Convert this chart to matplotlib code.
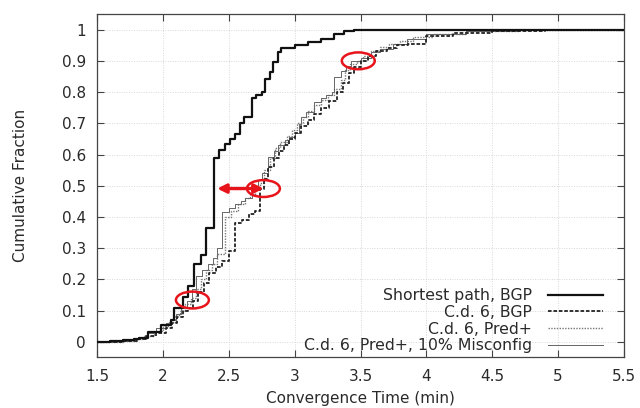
import matplotlib
matplotlib.use("Agg")
import matplotlib.pyplot as plt
from matplotlib.patches import Ellipse

plt.rcParams['font.family'] = ['DejaVu Sans']

# ---- data ----
sp_x = [1.5, 1.6, 1.7, 1.78, 1.82, 1.886, 1.986, 2.06, 2.086, 2.149, 2.187, 2.237, 2.287, 2.325,
        2.387, 2.425, 2.475, 2.51, 2.55, 2.588, 2.613, 2.675, 2.71, 2.75, 2.776, 2.813, 2.838,
        2.876, 2.90, 3.0, 3.10, 3.20, 3.30, 3.377, 3.45]
sp_y = [0.0, 0.002, 0.005, 0.008, 0.013, 0.033, 0.054, 0.07, 0.11, 0.145, 0.18, 0.25, 0.278, 0.364,
        0.59, 0.613, 0.635, 0.65, 0.667, 0.70, 0.72, 0.78, 0.79, 0.80, 0.843, 0.863, 0.895,
        0.927, 0.94, 0.95, 0.96, 0.97, 0.986, 0.995, 1.0]

bgp_x = [1.5, 1.7, 1.8, 1.87, 1.95, 2.02, 2.07, 2.11, 2.15, 2.19, 2.23, 2.27, 2.31, 2.35, 2.40,
         2.45, 2.50, 2.55, 2.60, 2.65, 2.70, 2.74, 2.77, 2.80, 2.84, 2.88, 2.92, 2.96, 3.0, 3.05,
         3.10, 3.15, 3.20, 3.26, 3.32, 3.37, 3.41, 3.45, 3.50, 3.56, 3.62, 3.70, 3.78, 3.86, 4.0,
         4.2, 4.5, 4.9]
bgp_y = [0.0, 0.003, 0.008, 0.018, 0.03, 0.045, 0.06, 0.08, 0.10, 0.11, 0.13, 0.16, 0.19, 0.22, 0.24,
         0.26, 0.29, 0.38, 0.39, 0.41, 0.42, 0.49, 0.52, 0.56, 0.59, 0.61, 0.63, 0.65, 0.67, 0.69,
         0.71, 0.73, 0.75, 0.77, 0.80, 0.83, 0.86, 0.88, 0.90, 0.915, 0.93, 0.94, 0.95, 0.955, 0.98,
         0.99, 0.997, 1.0]

pred_x = [1.5, 1.7, 1.8, 1.86, 1.93, 2.0, 2.05, 2.09, 2.13, 2.17, 2.21, 2.25, 2.29, 2.33, 2.37,
          2.41, 2.47, 2.52, 2.57, 2.62, 2.66, 2.70, 2.74, 2.77, 2.81, 2.85, 2.89, 2.94, 2.98, 3.02,
          3.06, 3.10, 3.15, 3.20, 3.25, 3.30, 3.35, 3.38, 3.42, 3.47, 3.52, 3.58, 3.65, 3.72, 3.80,
          3.90, 4.05, 4.3, 4.7]
pred_y = [0.0, 0.004, 0.01, 0.02, 0.035, 0.05, 0.065, 0.085, 0.10, 0.12, 0.14, 0.17, 0.20, 0.23, 0.25,
          0.28, 0.40, 0.42, 0.44, 0.46, 0.475, 0.49, 0.51, 0.55, 0.59, 0.62, 0.64, 0.66, 0.68, 0.70,
          0.72, 0.74, 0.76, 0.775, 0.79, 0.81, 0.84, 0.87, 0.89, 0.90, 0.915, 0.93, 0.945, 0.955, 0.965,
          0.975, 0.985, 0.995, 1.0]

mis_x = [1.5, 1.65, 1.75, 1.82, 1.88, 1.95, 2.02, 2.06, 2.10, 2.14, 2.18, 2.22, 2.25, 2.30, 2.34,
         2.38, 2.41, 2.445, 2.50, 2.55, 2.59, 2.62, 2.675, 2.725, 2.75, 2.80, 2.84, 2.876, 2.925,
         2.96, 3.0, 3.03, 3.05, 3.09, 3.15, 3.20, 3.24, 3.28, 3.30, 3.35, 3.39, 3.43, 3.50, 3.58,
         3.65, 3.75, 3.85, 4.0, 4.3, 4.7]
mis_y = [0.0, 0.003, 0.008, 0.015, 0.03, 0.045, 0.06, 0.07, 0.09, 0.11, 0.13, 0.17, 0.21, 0.23, 0.25,
         0.27, 0.30, 0.415, 0.43, 0.44, 0.45, 0.46, 0.486, 0.518, 0.54, 0.592, 0.61, 0.63, 0.645,
         0.656, 0.67, 0.698, 0.72, 0.736, 0.768, 0.78, 0.79, 0.80, 0.848, 0.869, 0.885, 0.90, 0.91,
         0.927, 0.938, 0.955, 0.97, 0.985, 0.995, 1.0]

labels = ["Shortest path, BGP", "C.d. 6, BGP", "C.d. 6, Pred+", "C.d. 6, Pred+, 10% Misconfig"]
x_ticks = [1.5, 2, 2.5, 3, 3.5, 4, 4.5, 5, 5.5]
x_ticklabels = ["1.5", "2", "2.5", "3", "3.5", "4", "4.5", "5", "5.5"]
y_ticks = [0, 0.1, 0.2, 0.3, 0.4, 0.5, 0.6, 0.7, 0.8, 0.9, 1.0]
y_ticklabels = ["0", "0.1", "0.2", "0.3", "0.4", "0.5", "0.6", "0.7", "0.8", "0.9", "1"]

# highlighted regions (centre x, centre y)
ell_x = [2.224, 2.763, 3.483]
ell_y = [0.134, 0.491, 0.90]
arrow_x = [2.412, 2.765]
arrow_y = 0.491

# ---- figure ----
fig = plt.figure(figsize=(6.4, 4.08), dpi=100)
ax = fig.add_axes([0.1516, 0.1238, 0.8234, 0.8419])
txt = '#2a2a2a'

def ext(x, y):
    return list(x) + [5.5], list(y) + [y[-1]]

x, y = ext(sp_x, sp_y)
ax.step(x, y, where='post', color='#111111', lw=1.6, label=labels[0], zorder=5)
x, y = ext(bgp_x, bgp_y)
ax.step(x, y, where='post', color='#222222', lw=1.3, dashes=(2.0, 1.0), label=labels[1], zorder=4)
x, y = ext(pred_x, pred_y)
ax.step(x, y, where='post', color='#777777', lw=1.0, dashes=(1.0, 1.0), label=labels[2], zorder=3)
x, y = ext(mis_x, mis_y)
ax.step(x, y, where='post', color='#666666', lw=0.7, label=labels[3], zorder=3)

for cx, cy in zip(ell_x, ell_y):
    ax.add_patch(Ellipse((cx, cy), 0.25, 0.054, fill=False, edgecolor='#e8141b', lw=1.8, zorder=7))

ax.annotate('', xy=(arrow_x[0], arrow_y), xytext=(arrow_x[1], arrow_y),
            arrowprops=dict(arrowstyle='<|-|>', color='#e8141b', lw=2.4,
                            mutation_scale=13, shrinkA=0, shrinkB=0), zorder=8)

ax.set_xlim(1.5, 5.5)
ax.set_ylim(-0.05, 1.05)
ax.set_xticks(x_ticks)
ax.set_xticklabels(x_ticklabels)
ax.set_yticks(y_ticks)
ax.set_yticklabels(y_ticklabels)
ax.tick_params(direction='in', length=5, width=0.8, top=True, right=True,
               labelsize=11, colors='#444444', labelcolor=txt, pad=8)
ax.grid(True, color='#d8d8d8', lw=0.7, ls=(0, (1, 1.5)))
for s in ax.spines.values():
    s.set_color('#444444')
    s.set_linewidth(0.9)

ax.set_xlabel("Convergence Time (min)", fontsize=11, color=txt, labelpad=5)
ax.set_ylabel("Cumulative Fraction", fontsize=11, color=txt)
ax.yaxis.set_label_coords(-0.131, 0.5)

leg = ax.legend(loc='lower right', frameon=False, markerfirst=False, fontsize=11.3,
                handlelength=3.5, handletextpad=1.0, labelspacing=0.11,
                borderaxespad=0.0, bbox_to_anchor=(0.9716, -0.006))
for t in leg.get_texts():
    t.set_color(txt)

fig.savefig("out.png", dpi=100)
